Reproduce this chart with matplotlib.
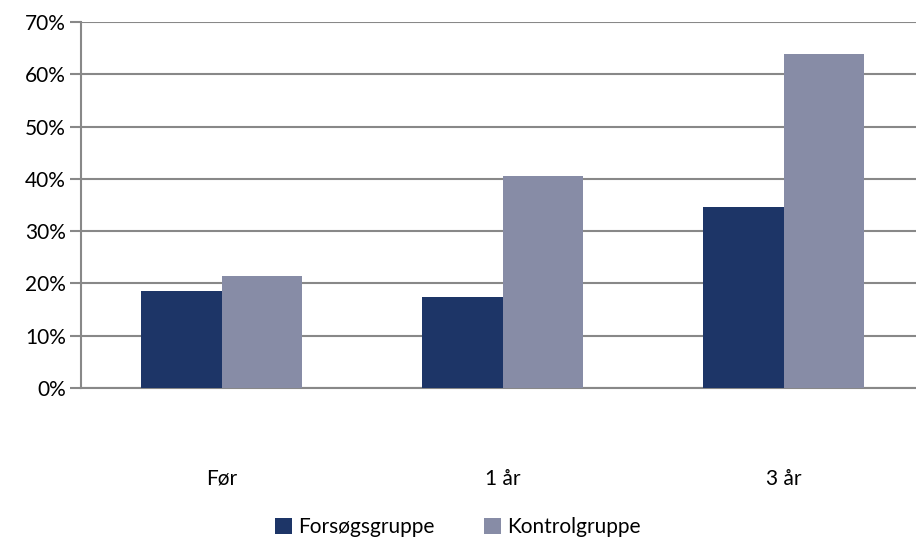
import numpy as np
import matplotlib.pyplot as plt

categories = ["Før", "1 år", "3 år"]
forsog = [18.5, 17.4, 34.6]
kontrol = [21.4, 40.5, 63.9]
series_names = ["Forsøgsgruppe", "Kontrolgruppe"]

plt.rcParams["font.family"] = ["Lato", "DejaVu Sans"]

fig = plt.figure(figsize=(9.16, 5.45), dpi=100)
ax = fig.add_axes([81 / 916, 1 - 388 / 545, 843 / 916, 366 / 545])

x = np.arange(len(categories))
w = 0.285
ax.bar(x - w / 2, forsog, w, color="#1d3567", label=series_names[0], zorder=3)
ax.bar(x + w / 2, kontrol, w, color="#878ca6", label=series_names[1], zorder=3)

ax.set_xlim(-0.5, 2.5)
ax.set_ylim(0, 70)
ax.set_yticks(np.arange(0, 71, 10))
ax.set_yticklabels([f"{v}%" for v in range(0, 71, 10)], fontsize=15)
ax.yaxis.grid(True, color="#888888", linewidth=1.5, zorder=0)
ax.tick_params(axis="y", length=8, width=1.5, color="#888888", pad=3)

ax.set_xticks(x)
ax.set_xticklabels(categories, fontsize=15)
ax.tick_params(axis="x", length=0, pad=58)

for s in ["top", "right"]:
    ax.spines[s].set_visible(False)
for s in ["left", "bottom"]:
    ax.spines[s].set_color("#888888")
    ax.spines[s].set_linewidth(1.5)

fig.legend(loc="lower center", bbox_to_anchor=(0.5, -0.02), ncol=2, frameon=False,
           fontsize=15, handlelength=0.8, handleheight=0.8, handletextpad=0.3,
           columnspacing=2.4)

fig.savefig("out.png", dpi=100)
